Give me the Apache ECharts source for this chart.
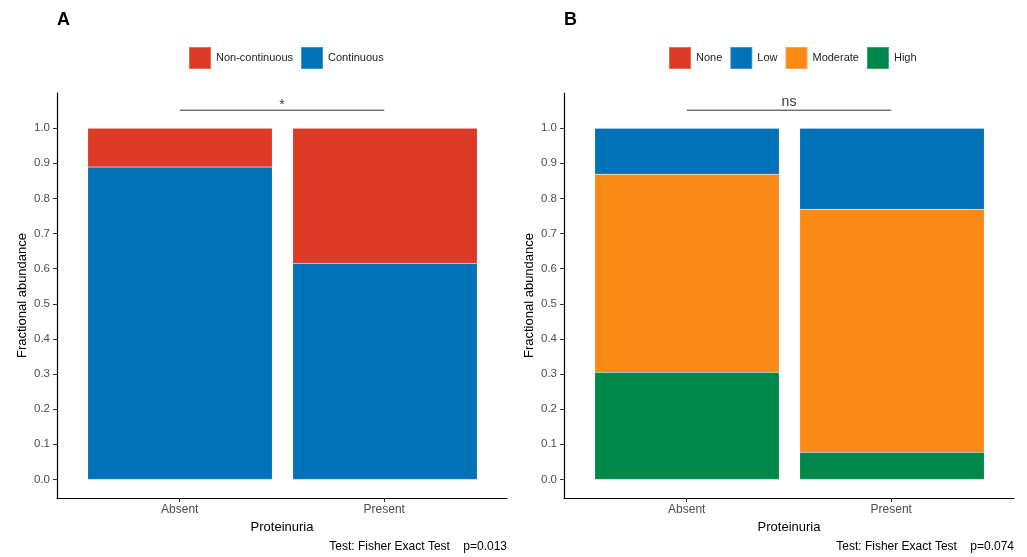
<!DOCTYPE html>
<html>
<head>
<meta charset="utf-8">
<script src="https://cdn.jsdelivr.net/npm/echarts@6/dist/echarts.min.js"></script>
<style>html,body{margin:0;padding:0;background:#fff}#c{width:1027px;height:557px}</style>
</head>
<body>
<div id="c"></div>
<script>
const categories = ['Absent', 'Present'];
const xPositions = [1, 2];
const yTicks = [0, 0.1, 0.2, 0.3, 0.4, 0.5, 0.6, 0.7, 0.8, 0.9, 1.0];

// Panel A
const continuousA = [0.889, 0.615];
const nonContinuousA = [0.111, 0.385];
// Panel B
const highB = [0.305, 0.077];
const moderateB = [0.564, 0.692];
const lowB = [0.131, 0.231];
const noneB = [0, 0];

const bracketY = 1.051;
const sigA = '*';
const sigB = 'ns';
const footA = 'Test: Fisher Exact Test    p=0.013';
const footB = 'Test: Fisher Exact Test    p=0.074';

const C = { red: '#DB3A26', blue: '#0172B8', orange: '#FB8915', green: '#00874A' };
const FONT = 'Liberation Sans, Arial, sans-serif';
const Y_MIN = -0.053, Y_MAX = 1.1;

// outer (visible axes) grids: 0,1 ; inner (bars) grids: 2,3
function xAxisOuter(gi) {
  return {
    type: 'value', gridIndex: gi, min: 0.4, max: 2.6,
    name: 'Proteinuria', nameLocation: 'middle', nameGap: 19,
    nameTextStyle: { fontFamily: FONT, fontSize: 13, color: '#000' },
    axisLine: { show: true, onZero: false, lineStyle: { color: '#000', width: 1.2 } },
    axisTick: { show: true, length: 4, customValues: xPositions, lineStyle: { color: '#333' } },
    axisLabel: { customValues: xPositions, margin: 6, fontFamily: FONT, fontSize: 12, color: '#4d4d4d',
      formatter: v => categories[Math.round(v) - 1] },
    splitLine: { show: false }
  };
}
function yAxisOuter(gi) {
  return {
    type: 'value', gridIndex: gi, min: Y_MIN, max: Y_MAX,
    name: 'Fractional abundance', nameLocation: 'middle', nameGap: 28,
    nameTextStyle: { fontFamily: FONT, fontSize: 13, color: '#000' },
    axisLine: { show: true, onZero: false, lineStyle: { color: '#000', width: 1.2 } },
    axisTick: { show: true, length: 4, customValues: yTicks, lineStyle: { color: '#333' } },
    axisLabel: { customValues: yTicks, margin: 7, fontFamily: FONT, fontSize: 11.5, color: '#4d4d4d',
      formatter: v => v.toFixed(1) },
    splitLine: { show: false }
  };
}
function xAxisInner(gi) {
  return { type: 'category', gridIndex: gi, data: categories, boundaryGap: true, show: false };
}
function yAxisInner(gi) {
  return { type: 'value', gridIndex: gi, min: Y_MIN, max: Y_MAX, show: false, splitLine: { show: false } };
}
function bar(name, data, color, ai) {
  return {
    type: 'bar', name, stack: 's' + ai, xAxisIndex: ai, yAxisIndex: ai,
    data: data, barWidth: '90%',
    itemStyle: { color, borderColor: 'rgba(255,255,255,0.25)', borderWidth: 0.5 },
    emphasis: { disabled: true }
  };
}
function bracket(gi, label, fs, dist) {
  return [
    { type: 'line', xAxisIndex: gi, yAxisIndex: gi, data: [[1, bracketY], [2, bracketY]],
      symbol: 'none', lineStyle: { color: '#333', width: 1 }, silent: true },
    { type: 'scatter', xAxisIndex: gi, yAxisIndex: gi, data: [[1.5, bracketY]], symbolSize: 2,
      itemStyle: { color: 'rgba(0,0,0,0)' }, silent: true,
      label: { show: true, position: 'top', distance: dist, formatter: label, fontFamily: FONT, fontSize: fs, color: '#000' } }
  ];
}

const chart = echarts.init(document.getElementById('c'), null, { renderer: 'canvas' });
chart.setOption({
  animation: false,
  backgroundColor: '#fff',
  title: [
    { text: 'A', left: 52, top: 6, textStyle: { fontFamily: FONT, fontSize: 18, fontWeight: 'bold', color: '#000' } },
    { text: 'B', left: 559, top: 6, textStyle: { fontFamily: FONT, fontSize: 18, fontWeight: 'bold', color: '#000' } },
    { text: footA, right: 515, top: 536, textStyle: { fontFamily: FONT, fontSize: 12, fontWeight: 'normal', color: '#000' } },
    { text: footB, right: 8, top: 536, textStyle: { fontFamily: FONT, fontSize: 12, fontWeight: 'normal', color: '#000' } }
  ],
  legend: [
    { data: ['Non-continuous', 'Continuous'], left: 183, top: 41, itemWidth: 22, itemHeight: 22, itemGap: 7,
      icon: 'rect', textStyle: { fontFamily: FONT, fontSize: 11, color: '#222' }, selectedMode: false },
    { data: ['None', 'Low', 'Moderate', 'High'], left: 663, top: 41, itemWidth: 22, itemHeight: 22, itemGap: 7,
      icon: 'rect', textStyle: { fontFamily: FONT, fontSize: 11, color: '#222' }, selectedMode: false }
  ],
  grid: [
    { left: 57, top: 93, width: 450, height: 405 },
    { left: 564, top: 93, width: 450, height: 405 },
    { left: 77.5, top: 93, width: 410, height: 405 },
    { left: 584.5, top: 93, width: 410, height: 405 }
  ],
  xAxis: [xAxisOuter(0), xAxisOuter(1), xAxisInner(2), xAxisInner(3)],
  yAxis: [yAxisOuter(0), yAxisOuter(1), yAxisInner(2), yAxisInner(3)],
  series: [
    bar('Continuous', continuousA, C.blue, 2),
    bar('Non-continuous', nonContinuousA, C.red, 2),
    bar('High', highB, C.green, 3),
    bar('Moderate', moderateB, C.orange, 3),
    bar('Low', lowB, C.blue, 3),
    bar('None', noneB, C.red, 3),
    ...bracket(0, sigA, 14, -3),
    ...bracket(1, sigB, 14, 0)
  ]
});
</script>
</body>
</html>
